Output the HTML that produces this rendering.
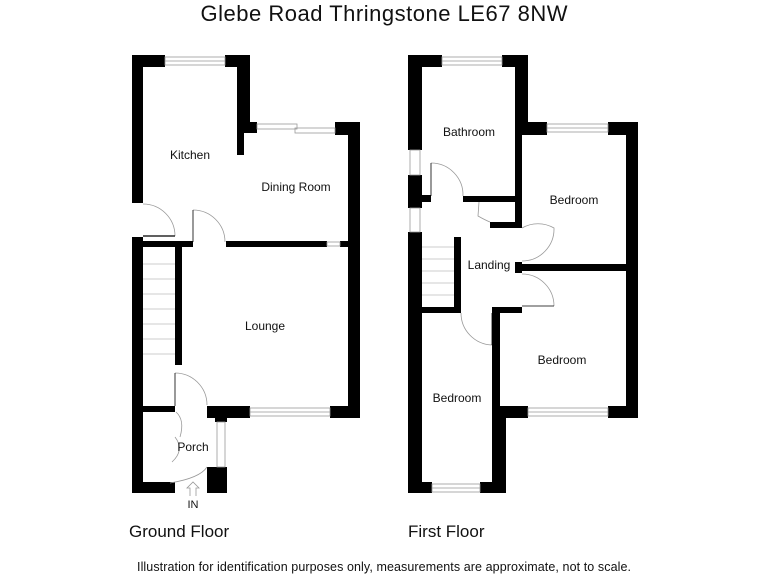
<!DOCTYPE html>
<html><head><meta charset="utf-8"><style>
html,body{margin:0;padding:0;background:#fff;}
svg{display:block;font-family:"Liberation Sans",sans-serif;}
</style></head><body>
<svg width="768" height="576" viewBox="0 0 768 576" xmlns="http://www.w3.org/2000/svg">
<rect width="768" height="576" fill="#fff"/>
<text x="384" y="21" font-size="22" text-anchor="middle" fill="#111" textLength="367">Glebe Road Thringstone LE67 8NW</text>
<g fill="#000">
<rect x="132" y="55" width="11" height="148"/>
<rect x="132" y="55" width="33" height="12"/>
<rect x="225" y="55" width="25" height="12"/>
<rect x="237" y="55" width="13" height="78"/>
<rect x="237" y="133" width="7" height="22"/>
<rect x="244" y="122" width="13" height="11"/>
<rect x="335" y="122" width="25" height="13"/>
<rect x="348" y="122" width="12" height="296"/>
<rect x="226" y="241" width="101" height="6"/>
<rect x="340" y="241" width="8" height="6"/>
<rect x="143" y="241" width="50" height="6"/>
<rect x="132" y="237" width="11" height="256"/>
<rect x="175" y="247" width="7" height="118"/>
<rect x="207" y="406" width="43" height="12"/>
<rect x="330" y="406" width="30" height="12"/>
<rect x="143" y="406" width="32" height="6"/>
<rect x="215" y="406" width="12" height="16"/>
<rect x="207" y="467" width="20" height="26"/>
<rect x="132" y="482" width="43" height="11"/>
<rect x="408" y="55" width="14" height="95"/>
<rect x="408" y="175" width="14" height="33"/>
<rect x="408" y="232" width="14" height="261"/>
<rect x="408" y="55" width="34" height="12"/>
<rect x="502" y="55" width="26" height="12"/>
<rect x="515" y="55" width="13" height="67"/>
<rect x="515" y="122" width="7" height="106"/>
<rect x="522" y="122" width="25" height="13"/>
<rect x="608" y="122" width="30" height="13"/>
<rect x="626" y="122" width="12" height="296"/>
<rect x="463" y="196" width="59" height="6"/>
<rect x="422" y="195" width="9" height="7"/>
<rect x="490" y="222" width="32" height="6"/>
<rect x="515" y="262" width="7" height="11"/>
<rect x="517" y="264" width="109" height="7"/>
<rect x="454" y="237" width="7" height="76"/>
<rect x="422" y="307" width="39" height="6"/>
<rect x="492" y="307" width="30" height="6"/>
<rect x="492" y="307" width="8" height="186"/>
<rect x="492" y="410" width="14" height="83"/>
<rect x="500" y="406" width="28" height="12"/>
<rect x="608" y="406" width="30" height="12"/>
<rect x="408" y="482" width="24" height="11"/>
<rect x="480" y="482" width="26" height="11"/>
</g>
<g fill="none" stroke="#999" stroke-width="0.8">
<rect x="165" y="57" width="60" height="8"/><line x1="165" y1="61" x2="225" y2="61"/>
<rect x="257" y="124" width="40" height="5"/><rect x="295" y="128" width="40" height="5"/>
<rect x="327" y="242" width="13" height="4"/>
<rect x="250" y="408" width="80" height="8"/><line x1="250" y1="412" x2="330" y2="412"/>
<rect x="217" y="422" width="8" height="45"/>
<rect x="442" y="57" width="60" height="8"/><line x1="442" y1="61" x2="502" y2="61"/>
<rect x="547" y="124" width="61" height="8"/><line x1="547" y1="128" x2="608" y2="128"/>
<rect x="410" y="150" width="10" height="25"/><rect x="410" y="208" width="10" height="24"/>
<rect x="528" y="408" width="80" height="8"/><line x1="528" y1="412" x2="608" y2="412"/>
<rect x="432" y="484" width="48" height="8"/><line x1="432" y1="488" x2="480" y2="488"/>
<path d="M143 204 A32 32 0 0 1 175 236"/><line x1="143" y1="236" x2="175" y2="236" stroke="#000" stroke-width="1.2"/>
<path d="M193 210 A32 32 0 0 1 225 242"/><line x1="193" y1="210" x2="193" y2="242" stroke="#000"/>
<path d="M175 373 A32 32 0 0 1 207 405"/><line x1="175" y1="373" x2="175" y2="406" stroke="#000"/>
<path d="M431 163 A32 32 0 0 1 463 196"/><line x1="431" y1="163" x2="431" y2="196" stroke="#000"/>
<path d="M522 228 A32 32 0 0 1 554 228 A32 32 0 0 1 522 261"/>
<path d="M522 274 A32 32 0 0 1 554 306"/><line x1="522" y1="306" x2="554" y2="306" stroke="#000"/>
<path d="M461 313 A32 32 0 0 0 492 345"/><line x1="492" y1="313" x2="492" y2="345" stroke="#000"/>
<path d="M479 202 L478 216 Q485 220 490 222"/>
<path d="M176 412 Q185 420 180 437 M175 437 Q185 450 172 462 M207 467 Q200 478 170 483"/>
<path d="M190 496 L190 488 L187 488 L193 482 L199 488 L196 488 L196 496"/>
<g stroke="#bbb">
<line x1="143" y1="264" x2="175" y2="264"/><line x1="143" y1="279" x2="175" y2="279"/><line x1="143" y1="294" x2="175" y2="294"/><line x1="143" y1="309" x2="175" y2="309"/><line x1="143" y1="324" x2="175" y2="324"/><line x1="143" y1="339" x2="175" y2="339"/><line x1="143" y1="354" x2="175" y2="354"/>
<line x1="422" y1="247" x2="454" y2="247"/><line x1="422" y1="259" x2="454" y2="259"/><line x1="422" y1="271" x2="454" y2="271"/><line x1="422" y1="283" x2="454" y2="283"/><line x1="422" y1="295" x2="454" y2="295"/>
</g>
</g>
<g font-size="12" fill="#111" text-anchor="middle">
<text x="190" y="159">Kitchen</text>
<text x="296" y="191">Dining Room</text>
<text x="265" y="330">Lounge</text>
<text x="193" y="451">Porch</text>
<text x="193" y="508" font-size="11">IN</text>
<text x="469" y="136">Bathroom</text>
<text x="574" y="204">Bedroom</text>
<text x="489" y="269">Landing</text>
<text x="562" y="364">Bedroom</text>
<text x="457" y="402">Bedroom</text>
</g>
<text x="129" y="537" font-size="17" fill="#111">Ground Floor</text>
<text x="408" y="537" font-size="17" fill="#111">First Floor</text>
<text x="384" y="571" font-size="12.5" fill="#111" text-anchor="middle" textLength="494">Illustration for identification purposes only, measurements are approximate, not to scale.</text>
</svg>
</body></html>
